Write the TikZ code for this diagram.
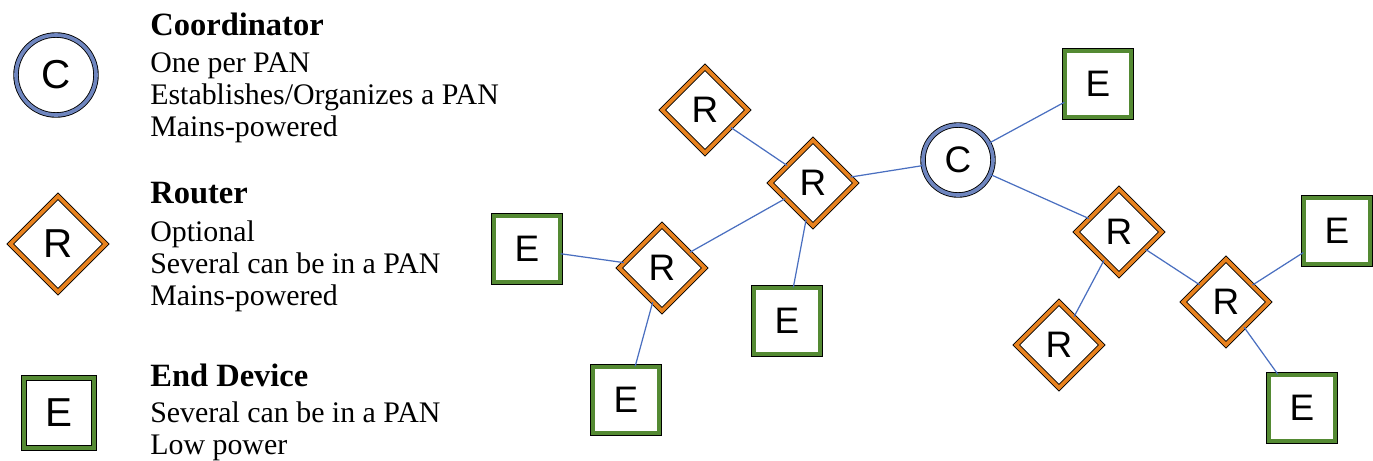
\documentclass[tikz,border=0pt]{standalone}
\usepackage{fontspec}
\setmainfont{Liberation Serif}
\newfontfamily\letterfont{Liberation Sans}
\usetikzlibrary{shapes,positioning}

\definecolor{coordblue}{HTML}{6F86BF}
\definecolor{routerorange}{HTML}{E8821E}
\definecolor{devgreen}{HTML}{548A33}
\definecolor{linkblue}{HTML}{4A6FC0}

\begin{document}
\begin{tikzpicture}[x=0.02cm,y=-0.02cm,
    band/.style={draw=black,line width=0.5pt,double distance=2.1pt,fill=white,inner sep=0pt,
        font=\letterfont\fontsize{21}{21}\selectfont},
    coord/.style={band,circle,double=coordblue,minimum size=1.4cm},
    router/.style={band,diamond,aspect=1,double=routerorange,minimum size=1.72cm},
    enddev/.style={band,rectangle,double=devgreen,minimum size=1.33cm},
    big/.style={font=\letterfont\fontsize{23}{23}\selectfont},
    link/.style={draw=linkblue,line width=0.7pt},
    heading/.style={anchor=base west,inner sep=0pt,font=\bfseries\fontsize{18.5}{20}\selectfont},
    desc/.style={anchor=north west,align=left,inner sep=0pt,font=\fontsize{17}{18.2}\selectfont}]

     \useasboundingbox (0,0) rectangle (1373,460);

     % legend
     \node[coord,big,minimum size=1.6cm] (lc) at (56,75) {C};
     \node[router,big,minimum size=1.92cm] (lr) at (58,244) {R};
     \node[enddev,big,minimum size=1.4cm] (le) at (59,413) {E};

     \node[heading] (lc_head) at (150,35) {Coordinator};
     \node[desc] (lc_text) at (150,52) {One per PAN\\Establishes/Organizes a PAN\\Mains-powered};

     \node[heading] (lr_head) at (150,203) {Router};
     \node[desc] (lr_text) at (150,220) {Optional\\Several can be in a PAN\\Mains-powered};

     \node[heading] (le_head) at (150,386) {End Device};
     \node[desc] (le_text) at (150,401) {Several can be in a PAN\\Low power};

     % network
     \node[coord] (c) at (958,160) {C};

     \node[router] (r1) at (705,110) {R};
     \node[router] (r2) at (813,183) {R};
     \node[router] (r3) at (1119,232) {R};
     \node[router] (r4) at (1226,302) {R};
     \node[router] (r5) at (1059,345) {R};
     \node[router] (r6) at (662,268) {R};

     \node[enddev] (e1) at (1098,84) {E};
     \node[enddev] (e2) at (1337,231) {E};
     \node[enddev] (e3) at (1302,408) {E};
     \node[enddev] (e4) at (527,249) {E};
     \node[enddev] (e5) at (787,321) {E};
     \node[enddev] (e6) at (626,400) {E};

     \draw[link] (r1) -- (r2);
     \draw[link] (r2) -- (c);
     \draw[link] (c) -- (e1);
     \draw[link] (c) -- (r3);
     \draw[link] (r3) -- (r4);
     \draw[link] (r3) -- (r5);
     \draw[link] (r4) -- (e2);
     \draw[link] (r4) -- (e3);
     \draw[link] (r2) -- (r6);
     \draw[link] (r2) -- (e5);
     \draw[link] (r6) -- (e4);
     \draw[link] (r6) -- (e6);

\end{tikzpicture}
\end{document}
